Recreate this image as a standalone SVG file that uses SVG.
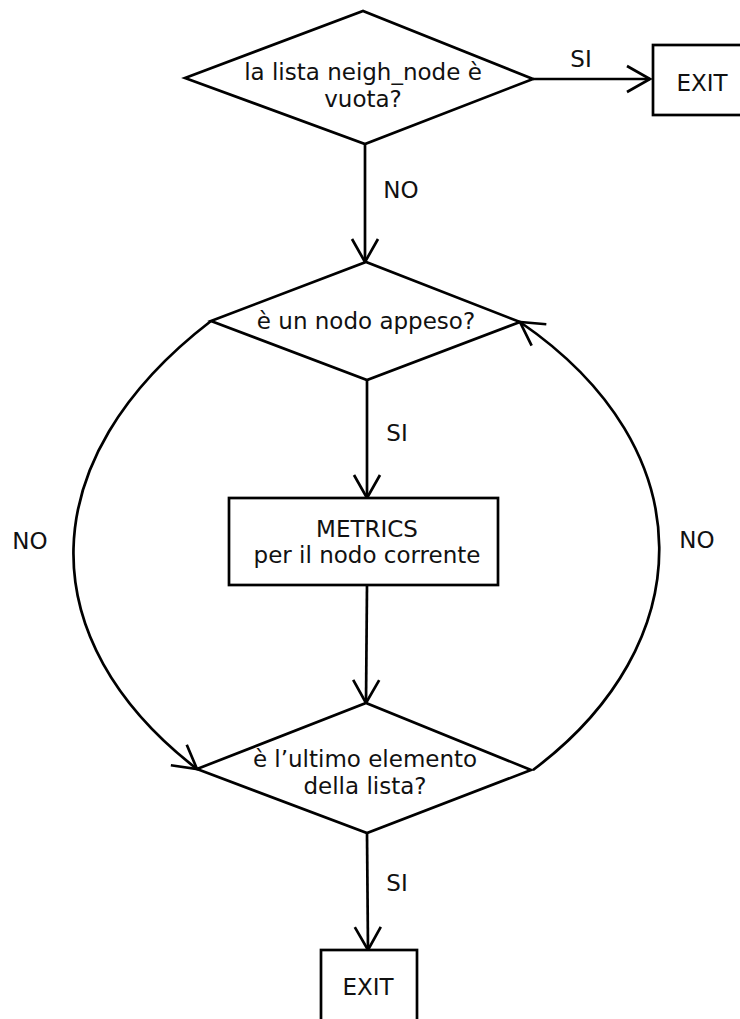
<svg xmlns="http://www.w3.org/2000/svg" width="740" height="1019" viewBox="0 0 740 1019">
<style>
.s{fill:#fff;stroke:#000;stroke-width:2.7}
.c{fill:none;stroke:#000;stroke-width:2.7}
text{font-family:"DejaVu Sans","Liberation Sans",sans-serif;font-size:23px;fill:#111;text-anchor:middle}
</style>
<defs>
<marker id="a" markerUnits="userSpaceOnUse" markerWidth="40" markerHeight="40" refX="0" refY="0" orient="auto" overflow="visible" viewBox="-30 -20 40 40">
<path d="M-23,-13 L0,0 L-23,13" fill="none" stroke="#000" stroke-width="2.7"/>
</marker>
</defs>
<rect width="740" height="1019" fill="#fff"/>
<g id="connectors">
<path class="c" d="M533,79 L650,79" marker-end="url(#a)"/>
<path class="c" d="M365,144 L365,262" marker-end="url(#a)"/>
<path class="c" d="M367,380 L367,498" marker-end="url(#a)"/>
<path class="c" d="M367,585 L366,703" marker-end="url(#a)"/>
<path class="c" d="M367,833 L368,950" marker-end="url(#a)"/>
<path class="c" d="M211,321 C30,460 30,640 197,769" marker-end="url(#a)"/>
<path class="c" d="M533,770 C700,645 707,450 520,322" marker-end="url(#a)"/>
<text x="581" y="67">SI</text>
<text x="401" y="198">NO</text>
<text x="397" y="441">SI</text>
<text x="30" y="549">NO</text>
<text x="697" y="548">NO</text>
<text x="397" y="891">SI</text>
</g>
<g id="d1">
<polygon class="s" points="185,78 363,11 533,79 365,144"/>
<text x="363" y="80">la lista neigh_node è</text>
<text x="363" y="107">vuota?</text>
</g>
<g id="exit1">
<rect class="s" x="653" y="45" width="92" height="70"/>
<text x="702" y="91">EXIT</text>
</g>
<g id="d2">
<polygon class="s" points="211,321 366,262 520,322 367,380"/>
<text x="366" y="329">è un nodo appeso?</text>
</g>
<g id="metrics">
<rect class="s" x="229" y="498" width="269" height="87"/>
<text x="367" y="537">METRICS</text>
<text x="367" y="563">per il nodo corrente</text>
</g>
<g id="d3">
<polygon class="s" points="197,769 366,703 531,770 367,833"/>
<text x="365" y="767">è l’ultimo elemento</text>
<text x="365" y="794">della lista?</text>
</g>
<g id="exit2">
<rect class="s" x="321" y="950" width="96" height="75"/>
<text x="368" y="995">EXIT</text>
</g>
</svg>
